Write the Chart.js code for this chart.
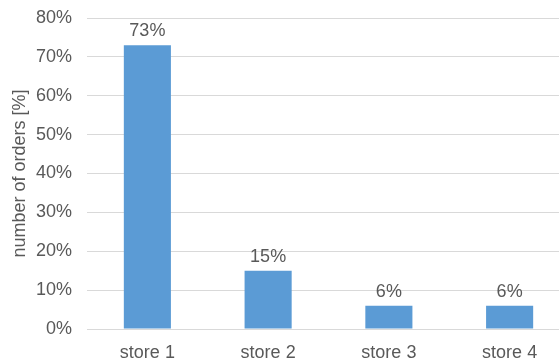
<!DOCTYPE html>
<html>
<head>
<meta charset="utf-8">
<script src="https://cdn.jsdelivr.net/npm/chart.js@4"></script>
<style>
  html, body { margin: 0; padding: 0; background: #fff; overflow: hidden; }
  #wrap { width: 570px; height: 360px; }
</style>
</head>
<body>
<div id="wrap"><canvas id="chart" width="570" height="360"></canvas></div>
<script>
const stores = ['store 1', 'store 2', 'store 3', 'store 4'];
const orderShare = [73, 15, 6, 6];
const yTicks = [0, 10, 20, 30, 40, 50, 60, 70, 80];

const textGray = '#595959';
const font = 'Arial, "Liberation Sans", sans-serif';

// percent labels above each bar, placed from the bar elements
const barLabels = {
  id: 'barLabels',
  afterDatasetsDraw(chart) {
    const ctx = chart.ctx;
    const meta = chart.getDatasetMeta(0);
    ctx.save();
    ctx.fillStyle = textGray;
    ctx.font = '18px ' + font;
    ctx.textAlign = 'center';
    ctx.textBaseline = 'alphabetic';
    meta.data.forEach((bar, i) => {
      ctx.fillText(orderShare[i] + '%', bar.x, bar.y - 9);
    });
    ctx.restore();
  }
};

new Chart(document.getElementById('chart'), {
  type: 'bar',
  data: {
    labels: stores,
    datasets: [{
      data: orderShare,
      backgroundColor: '#5b9bd5',
      barPercentage: 0.39,
      categoryPercentage: 1
    }]
  },
  options: {
    responsive: false,
    animation: false,
    layout: { padding: { top: 18, left: 0, right: 0, bottom: 0 } },
    plugins: { legend: { display: false }, tooltip: { enabled: false } },
    scales: {
      x: {
        grid: { display: false },
        border: { display: false },
        ticks: { color: textGray, font: { size: 18, family: font }, padding: 5 },
        afterFit(scale) { scale.height = 31; }
      },
      y: {
        min: 0,
        max: 80,
        afterBuildTicks(scale) { scale.ticks = yTicks.map(v => ({ value: v })); },
        grid: { color: '#d9d9d9', lineWidth: 1, drawTicks: false },
        border: { display: false },
        ticks: {
          color: textGray,
          font: { size: 18, family: font },
          padding: 15,
          callback: v => v + '%'
        },
        title: {
          display: true,
          text: 'number of orders [%]',
          color: textGray,
          font: { size: 18, family: font },
          padding: { top: 9, bottom: 0 }
        },
        afterFit(scale) {
          scale.width = 87;
          // top label overhang is covered by the layout padding
          scale.paddingTop = 0;
          scale.paddingBottom = 0;
        }
      }
    }
  },
  plugins: [barLabels]
});
</script>
</body>
</html>
